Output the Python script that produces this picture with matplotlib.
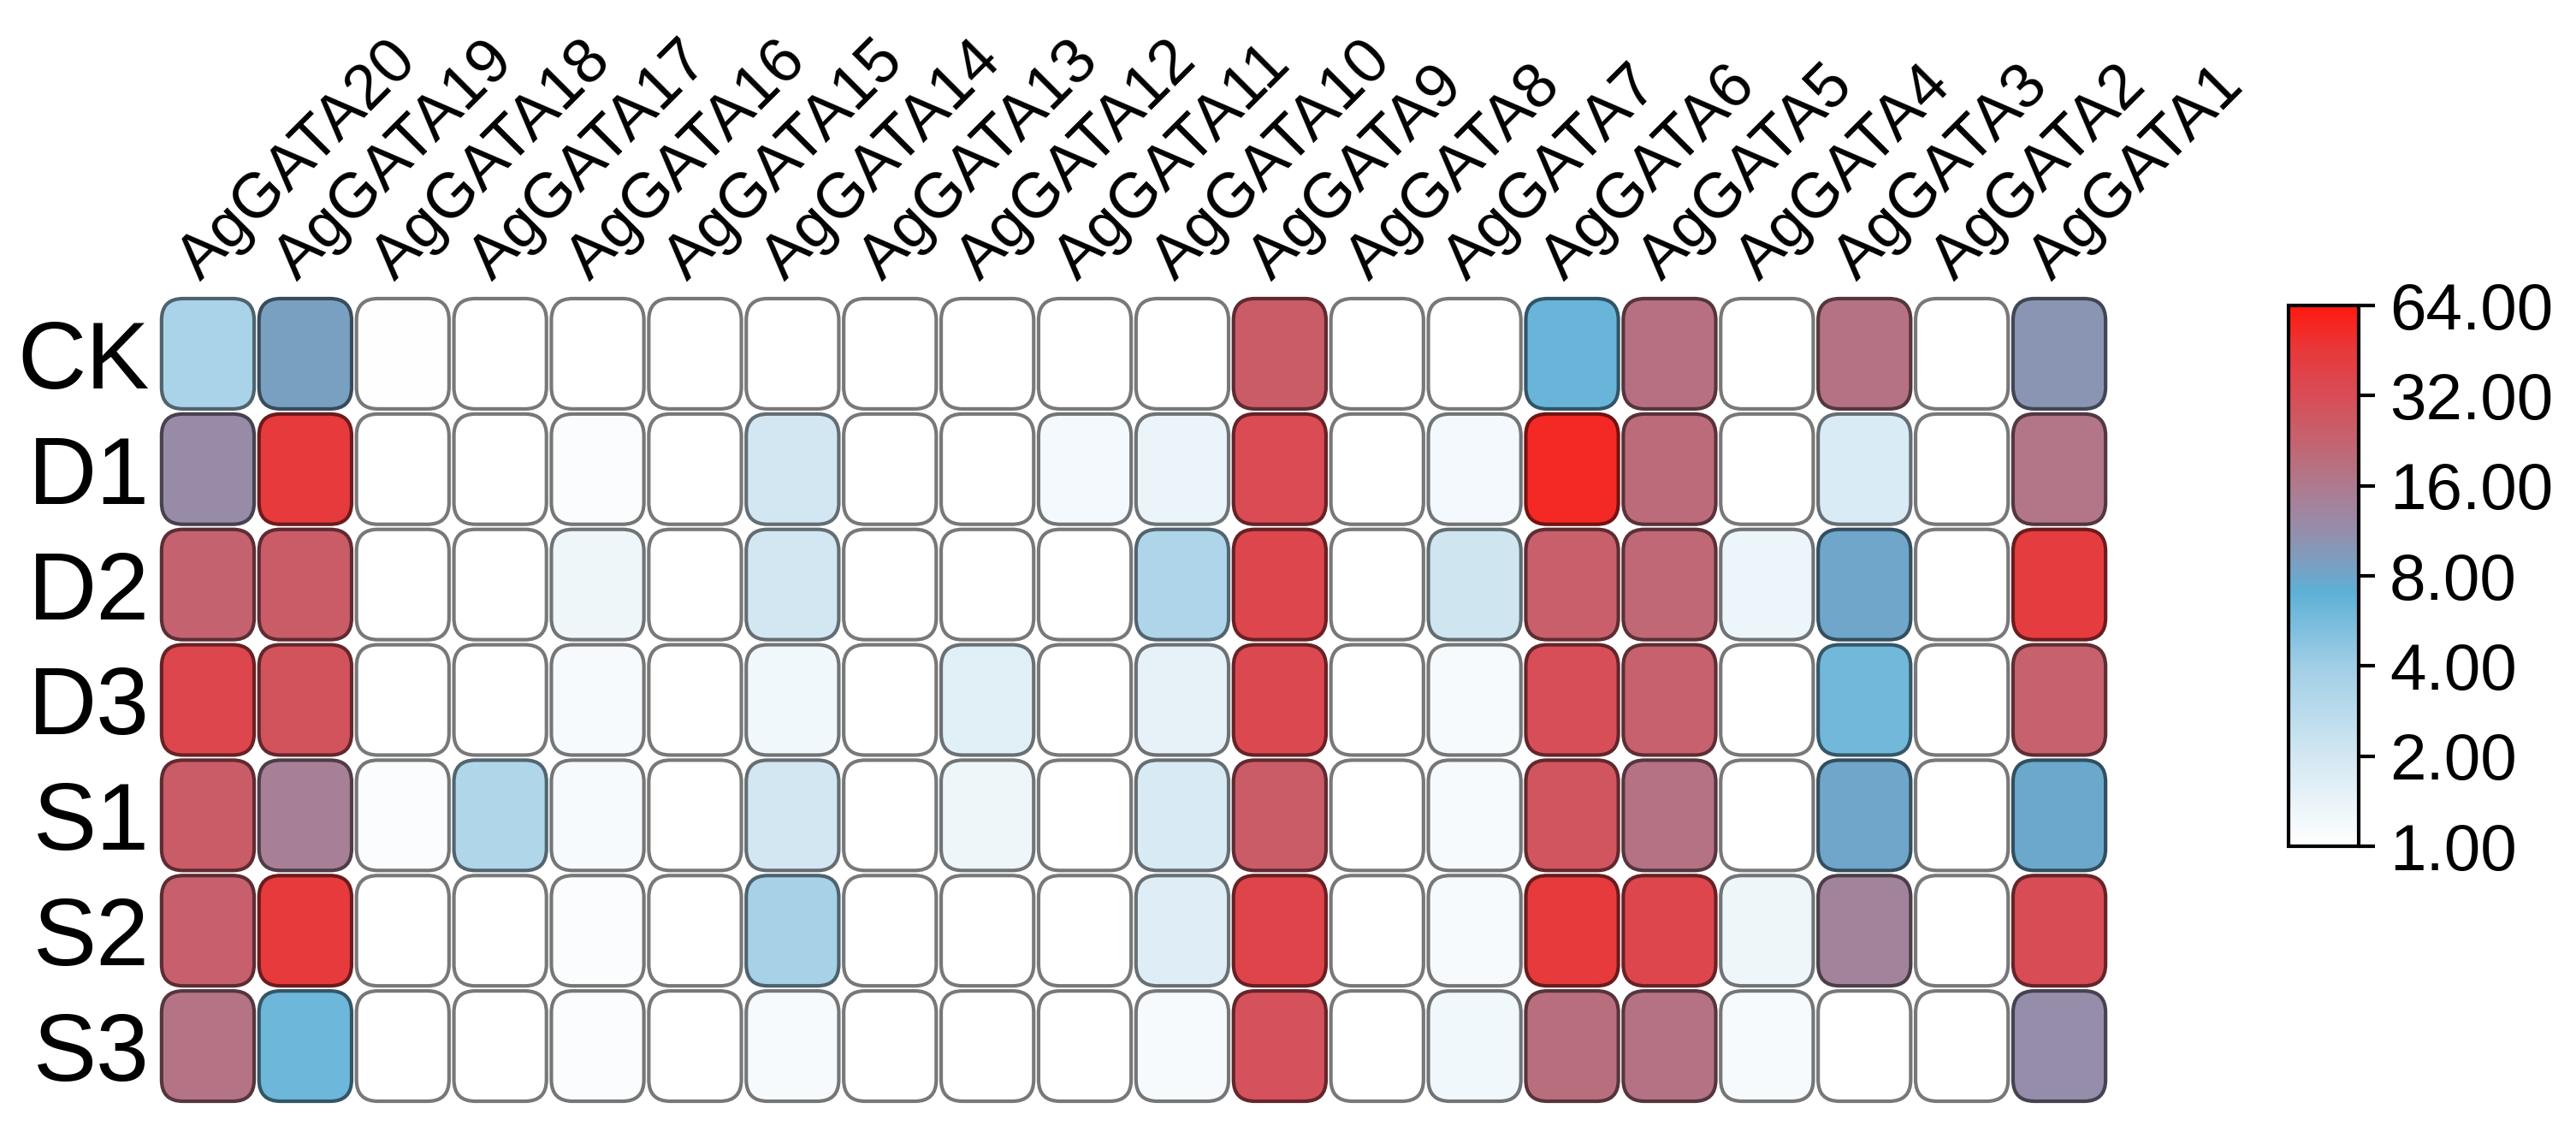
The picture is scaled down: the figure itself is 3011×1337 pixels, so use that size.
import numpy as np
import matplotlib
matplotlib.use("Agg")
import matplotlib.pyplot as plt
from matplotlib.colors import LinearSegmentedColormap, LogNorm
from matplotlib.patches import FancyBboxPatch
from matplotlib.ticker import FixedLocator, FixedFormatter, NullLocator

plt.rcParams['font.family'] = ['Liberation Sans', 'DejaVu Sans']

genes = ["AgGATA20", "AgGATA19", "AgGATA18", "AgGATA17", "AgGATA16", "AgGATA15",
         "AgGATA14", "AgGATA13", "AgGATA12", "AgGATA11", "AgGATA10", "AgGATA9",
         "AgGATA8", "AgGATA7", "AgGATA6", "AgGATA5", "AgGATA4", "AgGATA3",
         "AgGATA2", "AgGATA1"]
samples = ["CK", "D1", "D2", "D3", "S1", "S2", "S3"]

CK = [3.5, 8.7, 1.03, 1.0, 1.0, 1.0, 1.0, 1.0, 1.0, 1.0,
      1.0, 25.0, 1.0, 1.0, 6.4, 18.4, 1.0, 18.0, 1.0, 10.3]
D1 = [12.0, 44.0, 1.0, 1.0, 1.1, 1.0, 2.0, 1.0, 1.0, 1.2,
      1.4, 33.0, 1.0, 1.2, 54.0, 20.0, 1.0, 1.8, 1.0, 17.0]
D2 = [22.6, 25.0, 1.0, 1.0, 1.3, 1.0, 2.0, 1.0, 1.0, 1.0,
      3.3, 36.0, 1.0, 2.1, 24.0, 21.0, 1.35, 8.0, 1.0, 42.0]
D3 = [36.0, 29.0, 1.0, 1.0, 1.15, 1.0, 1.25, 1.0, 1.6, 1.0,
      1.5, 35.0, 1.0, 1.15, 31.0, 23.0, 1.0, 6.0, 1.0, 23.0]
S1 = [25.0, 14.4, 1.1, 3.2, 1.15, 1.0, 2.0, 1.0, 1.3, 1.0,
      1.85, 25.0, 1.0, 1.15, 28.0, 18.0, 1.0, 8.0, 1.0, 7.8]
S2 = [23.5, 44.0, 1.0, 1.0, 1.1, 1.0, 3.7, 1.0, 1.0, 1.0,
      1.65, 37.0, 1.0, 1.15, 44.0, 36.0, 1.3, 13.5, 1.0, 32.0]
S3 = [17.6, 6.2, 1.0, 1.0, 1.1, 1.0, 1.15, 1.0, 1.0, 1.0,
      1.15, 30.0, 1.0, 1.25, 19.0, 18.0, 1.15, 1.0, 1.0, 11.5]

cbar_ticks = [1, 2, 4, 8, 16, 32, 64]

data = np.array([CK, D1, D2, D3, S1, S2, S3])

cmap = LinearSegmentedColormap.from_list("tb", [
    (0.0, "#FFFFFF"),
    (0.167, "#D2E7F2"),
    (0.333, "#A0CEE6"),
    (0.47, "#5EB0D6"),
    (0.53, "#7E9DBE"),
    (0.6, "#9A8AA6"),
    (0.667, "#AE7A8E"),
    (0.75, "#C4636F"),
    (0.833, "#D84D57"),
    (0.92, "#E8383A"),
    (1.0, "#FF1A10"),
])
norm = LogNorm(vmin=1, vmax=64)

W, H = 3011, 1337
fig = plt.figure(figsize=(W / 100, H / 100), dpi=100)
ax = fig.add_axes([186 / W, 1 - 1290 / H, (2464 - 186) / W, (1290 - 346) / H])

nr, nc = data.shape
ax.set_xlim(0, nc)
ax.set_ylim(nr, 0)

px_x = (2464 - 186) / nc
px_y = (1290 - 346) / nr
asp = px_x / px_y
gx, gy = 0.025, 0.022
for i in range(nr):
    for j in range(nc):
        fc = np.array(cmap(norm(data[i, j]))[:3])
        ec = fc * 0.47
        p = FancyBboxPatch((j + gx, i + gy), 1 - 2 * gx, 1 - 2 * gy,
                           boxstyle="round,pad=0,rounding_size=0.22",
                           mutation_aspect=asp,
                           facecolor=fc, edgecolor=ec, linewidth=3.0)
        ax.add_patch(p)

for s in ax.spines.values():
    s.set_visible(False)
ax.set_xticks([])
ax.set_yticks(np.arange(nr) + 0.5)
ax.set_yticklabels(samples, fontsize=80)
ax.tick_params(axis='y', length=0, pad=8)

for j, g in enumerate(genes):
    ax.text(j + 0.42, -0.12, g, rotation=45, rotation_mode='anchor',
            ha='left', va='baseline', fontsize=53)

cax = fig.add_axes([2675 / W, 1 - 989 / H, 82 / W, (989 - 357) / H])
sm = plt.cm.ScalarMappable(norm=norm, cmap=cmap)
cb = fig.colorbar(sm, cax=cax)
cb.outline.set_linewidth(3)
cax.yaxis.set_major_locator(FixedLocator(cbar_ticks))
cax.yaxis.set_major_formatter(FixedFormatter([f"{t:.2f}" for t in cbar_ticks]))
cax.yaxis.set_minor_locator(NullLocator())
cax.tick_params(axis='y', labelsize=55, length=14, width=3, pad=12)

fig.savefig("out.png", dpi=100)
